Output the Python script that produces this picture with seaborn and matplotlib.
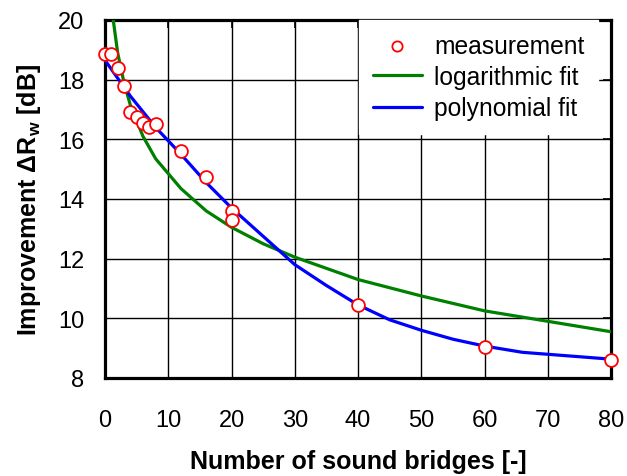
import matplotlib
matplotlib.use('Agg')
import pandas as pd
import seaborn as sns
import matplotlib.pyplot as plt

# measured improvement vs. number of sound bridges
bridges = [0, 1, 2, 3, 4, 5, 6, 7, 8, 12, 16, 20, 20, 40, 60, 80]
improvement = [18.85, 18.85, 18.4, 17.8, 16.9, 16.75, 16.55, 16.4, 16.5,
               15.6, 14.75, 13.6, 13.3, 10.45, 9.05, 8.6]

# logarithmic fit curve
log_x = [1.3, 2, 3, 4, 6, 8, 12, 16, 20, 25, 30, 40, 50, 60, 70, 80]
log_y = [20.0, 18.9, 17.9, 17.15, 16.1, 15.35, 14.35, 13.6, 13.05, 12.5,
         12.05, 11.3, 10.75, 10.25, 9.9, 9.55]

# polynomial fit curve
poly_x = [0, 4, 8, 12, 16, 20, 25, 30, 35, 40, 45, 50, 55, 60, 66, 80]
poly_y = [18.65, 17.45, 16.4, 15.5, 14.55, 13.7, 12.75, 11.8, 11.1, 10.45,
          9.95, 9.6, 9.3, 9.07, 8.86, 8.63]

meas = pd.DataFrame({'x': bridges, 'y': improvement})
logf = pd.DataFrame({'x': log_x, 'y': log_y})
polyf = pd.DataFrame({'x': poly_x, 'y': poly_y})

sns.set_style('white')
plt.rcParams['font.family'] = ['Liberation Sans', 'DejaVu Sans']
plt.rcParams['mathtext.fontset'] = 'custom'
plt.rcParams['mathtext.rm'] = 'Liberation Sans:bold'
plt.rcParams['mathtext.it'] = 'Liberation Sans:bold'
plt.rcParams['mathtext.bf'] = 'Liberation Sans:bold'
plt.rcParams['text.color'] = 'black'
plt.rcParams['axes.labelcolor'] = 'black'
plt.rcParams['xtick.color'] = 'black'
plt.rcParams['ytick.color'] = 'black'

fig = plt.figure(figsize=(6.27, 4.77), dpi=100)
ax = fig.add_axes([0.1675, 0.2055, 0.807, 0.7505])

sns.scatterplot(x='x', y='y', data=meas, ax=ax, marker='o', s=85,
                facecolor='white', edgecolor='red', linewidth=1.3,
                zorder=5, clip_on=False, label='measurement')
sns.lineplot(x='x', y='y', data=logf, ax=ax, color='green', linewidth=2.3,
             zorder=3, label='logarithmic fit')
sns.lineplot(x='x', y='y', data=polyf, ax=ax, color='blue', linewidth=2.3,
             zorder=3, label='polynomial fit')

ax.set_xlim(0, 80)
ax.set_ylim(8, 20)
ax.set_xticks(range(0, 81, 10))
ax.set_yticks(range(8, 21, 2))
ax.grid(True, color='black', linewidth=1.0)
ax.set_axisbelow(True)
for s in ax.spines.values():
    s.set_linewidth(2.3)
    s.set_color('black')
ax.tick_params(direction='in', length=6, width=1.2, top=True, right=True,
               labelsize=17, colors='black')
ax.tick_params(axis='x', pad=22)
ax.tick_params(axis='y', pad=15)

ax.set_xlabel('Number of sound bridges [-]', fontsize=18, fontweight='bold',
              labelpad=13, color='black')
ax.set_ylabel(r'Improvement $\Delta$R$_{\mathregular{w}}$ [dB]', fontsize=18,
              fontweight='bold', labelpad=11, color='black')

leg = ax.legend(loc='upper right', bbox_to_anchor=(0.974, 1.0), fontsize=17.7,
                frameon=True, fancybox=False, borderaxespad=0, borderpad=0.55,
                handlelength=2.0, handletextpad=0.5, labelspacing=0.3,
                markerscale=0.8)
leg.get_frame().set_facecolor('white')
leg.get_frame().set_edgecolor('white')
leg.get_frame().set_alpha(1)
for t in leg.get_texts():
    t.set_color('black')

plt.savefig('out.png', dpi=100)
